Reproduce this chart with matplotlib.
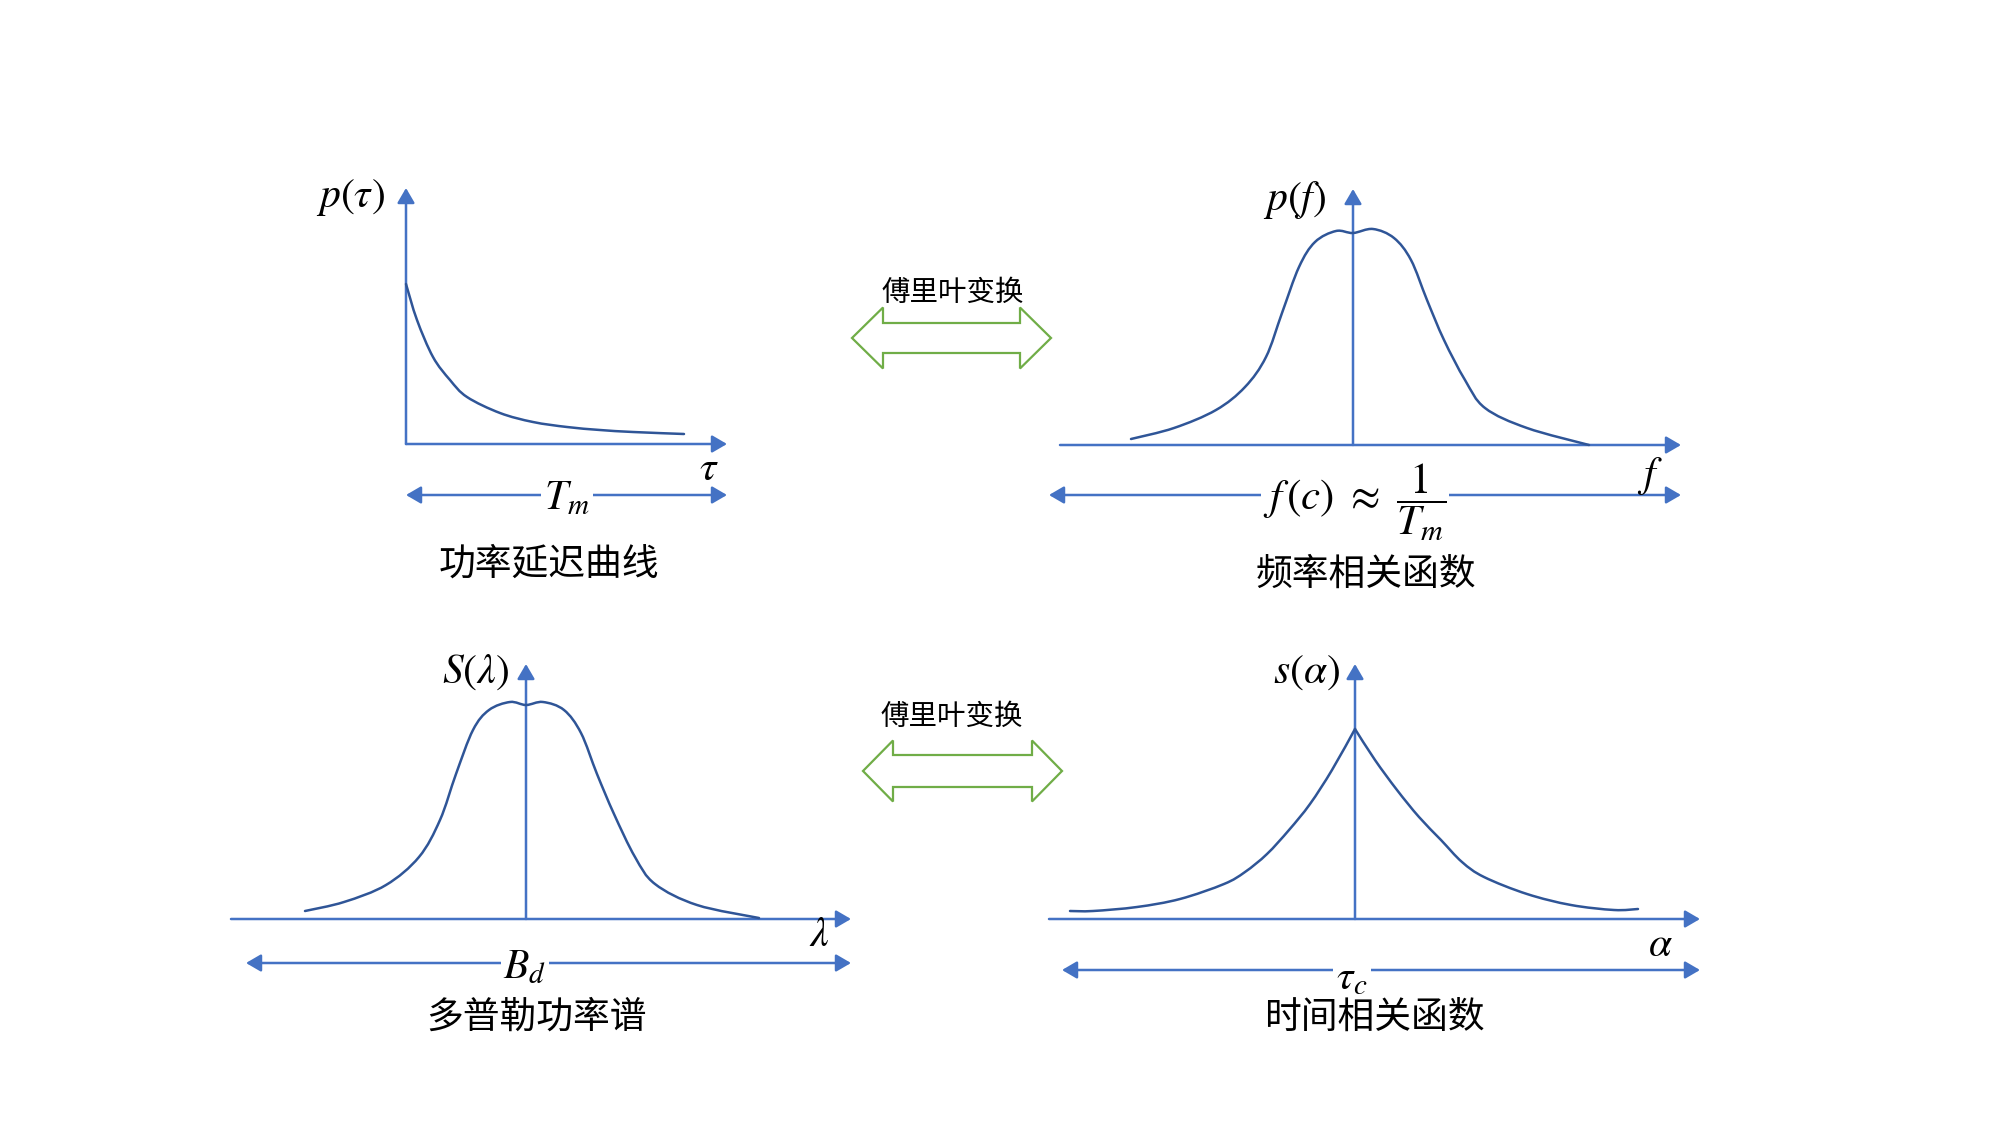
import numpy as np
import matplotlib
matplotlib.use("Agg")
import matplotlib.pyplot as plt
import matplotlib.transforms as mtransforms
from matplotlib.patches import FancyArrowPatch, Polygon, PathPatch
from matplotlib.path import Path

plt.rcParams['font.family'] = ['Noto Sans CJK SC', 'DejaVu Sans']
plt.rcParams['mathtext.fontset'] = 'stix'

# curve shapes (1 unit = 100 px, y up from the x axis)
tau = [0, 0.11, 0.27, 0.44, 0.61, 0.94, 1.27, 1.61, 1.94, 2.27, 2.78]
p_tau = [1.60, 1.24, 0.87, 0.64, 0.47, 0.31, 0.22, 0.17, 0.14, 0.12, 0.10]

f_vals = [-2.22, -1.79, -1.37, -1.08, -0.87, -0.71, -0.54, -0.38, -0.17, 0,
          0.20, 0.41, 0.58, 0.74, 0.91, 1.12, 1.32, 1.74, 2.36]
p_f = [0.06, 0.17, 0.35, 0.58, 0.88, 1.32, 1.78, 2.03, 2.14, 2.12,
       2.16, 2.07, 1.85, 1.45, 1.05, 0.65, 0.37, 0.17, 0.0]

lam = [-2.21, -1.82, -1.40, -1.07, -0.86, -0.70, -0.53, -0.37, -0.16, 0,
       0.17, 0.38, 0.55, 0.71, 0.88, 1.09, 1.29, 1.71, 2.33]
S_lam = [0.08, 0.17, 0.34, 0.62, 0.99, 1.45, 1.89, 2.09, 2.17, 2.14,
         2.17, 2.09, 1.86, 1.45, 1.05, 0.62, 0.35, 0.14, 0.01]

alpha = [-2.85, -2.62, -2.18, -1.75, -1.31, -1.10, -0.88, -0.66, -0.45, -0.23, 0,
         0.20, 0.42, 0.64, 0.86, 1.07, 1.29, 1.72, 2.16, 2.59, 2.83]
s_alpha = [0.08, 0.08, 0.12, 0.20, 0.35, 0.47, 0.65, 0.89, 1.15, 1.49, 1.90,
           1.59, 1.29, 1.02, 0.79, 0.57, 0.42, 0.25, 0.14, 0.09, 0.10]

captions = ["功率延迟曲线", "频率相关函数", "多普勒功率谱", "时间相关函数"]
ft_label = "傅里叶变换"

AXIS = "#4472C4"
CURVE = "#2F5597"
GREEN = "#70AD47"

fig = plt.figure(figsize=(20.01, 11.25), dpi=100)
ax = fig.add_axes([0, 0, 1, 1])
ax.set_xlim(0, 2001)
ax.set_ylim(1125, 0)
ax.axis("off")


def panel_tr(ox, oy):
    return mtransforms.Affine2D().scale(100, -100).translate(ox, oy) + ax.transData


def arrow(tr, p0, p1, both=False):
    style = "<|-|>" if both else "-|>"
    a = FancyArrowPatch(p0, p1, transform=tr,
                        arrowstyle=style + ",head_length=0.6,head_width=0.35",
                        mutation_scale=15, lw=1.8, color=AXIS,
                        shrinkA=0, shrinkB=0)
    ax.add_patch(a)


def smooth_line(tr, xs, ys):
    # hand-drawn look: bezier segments through the read points
    p = np.column_stack([xs, ys])
    ext = np.vstack([p[0], p, p[-1]])
    verts = [p[0]]
    codes = [Path.MOVETO]
    for i in range(len(p) - 1):
        p0, p1, p2, p3 = ext[i], ext[i + 1], ext[i + 2], ext[i + 3]
        verts += [p1 + (p2 - p0) / 6, p2 - (p3 - p1) / 6, p2]
        codes += [Path.CURVE4] * 3
    ax.add_patch(PathPatch(Path(verts, codes), fc="none", ec=CURVE, lw=1.8,
                           transform=tr, capstyle="round"))


def draw_panel(ox, oy, xs, ys, xmin, xmax, ymax, brk_y, brk_x0, brk_x1, cusp=False):
    tr = panel_tr(ox, oy)
    arrow(tr, (xmin, 0), (xmax, 0))
    arrow(tr, (0, 0), (0, ymax))
    arrow(tr, (brk_x0, brk_y), (brk_x1, brk_y), both=True)
    if cusp:
        k = list(xs).index(0)
        smooth_line(tr, xs[:k + 1], ys[:k + 1])
        smooth_line(tr, xs[k:], ys[k:])
    else:
        smooth_line(tr, xs, ys)


draw_panel(406, 444, tau, p_tau, 0, 3.21, 2.56, -0.51, 0, 3.21)
draw_panel(1353, 445, f_vals, p_f, -2.93, 3.28, 2.56, -0.50, -3.04, 3.28)
draw_panel(526, 919, lam, S_lam, -2.95, 3.25, 2.55, -0.44, -2.80, 3.25)
draw_panel(1355, 919, alpha, s_alpha, -3.06, 3.45, 2.55, -0.51, -2.93, 3.45, cusp=True)

# axis names
mt = dict(fontsize=30, ha="center", va="center", color="black")
ax.text(350, 198, r"$p(\tau)$", **mt)
ax.text(1295, 200, r"$p(f)$", **mt)
ax.text(476, 672, r"$S(\lambda)$", **mt)
ax.text(1306, 672, r"$s(\alpha)$", **mt)
ax.text(709, 468, r"$\tau$", **mt)
ax.text(1650, 476, r"$f$", **mt)
ax.text(819, 935, r"$\lambda$", **mt)
ax.text(1660, 944, r"$\alpha$", **mt)

# span labels on the double arrows
box = dict(fc="white", ec="none", pad=2)
ax.text(567, 498, r"$T_m$", bbox=box, **mt)
ax.text(1355, 502, r"$f\,(c)\ \approx\ \dfrac{1}{T_m}$", bbox=box,
        fontsize=31, ha="center", va="center", color="black")
ax.text(525, 967, r"$B_d$", bbox=box, **mt)
ax.text(1352, 978, r"$\tau_c$", bbox=box, **mt)

# captions
cap_pos = [(549, 564), (1366, 574), (536, 1017), (1374, 1017)]
for (cx, cy), txt in zip(cap_pos, captions):
    ax.text(cx, cy, txt, fontsize=26.5, ha="center", va="center", color="black")


# hollow double arrows for the Fourier transform
def block_darrow(cx, cy, half_len, head_len, shaft_h, head_h):
    xl, xr = cx - half_len, cx + half_len
    pts = [(xl, cy), (xl + head_len, cy - head_h), (xl + head_len, cy - shaft_h),
           (xr - head_len, cy - shaft_h), (xr - head_len, cy - head_h), (xr, cy),
           (xr - head_len, cy + head_h), (xr - head_len, cy + shaft_h),
           (xl + head_len, cy + shaft_h), (xl + head_len, cy + head_h)]
    ax.add_patch(Polygon(pts, closed=True, fc="none", ec=GREEN, lw=1.6))


block_darrow(951.5, 338, 99.5, 31, 15, 30.5)
block_darrow(962.5, 771, 99.5, 30, 16, 30.5)
ax.text(953, 293, ft_label, fontsize=20.5, ha="center", va="center", color="black")
ax.text(952, 717, ft_label, fontsize=20.5, ha="center", va="center", color="black")

fig.savefig("out.png", dpi=100)
